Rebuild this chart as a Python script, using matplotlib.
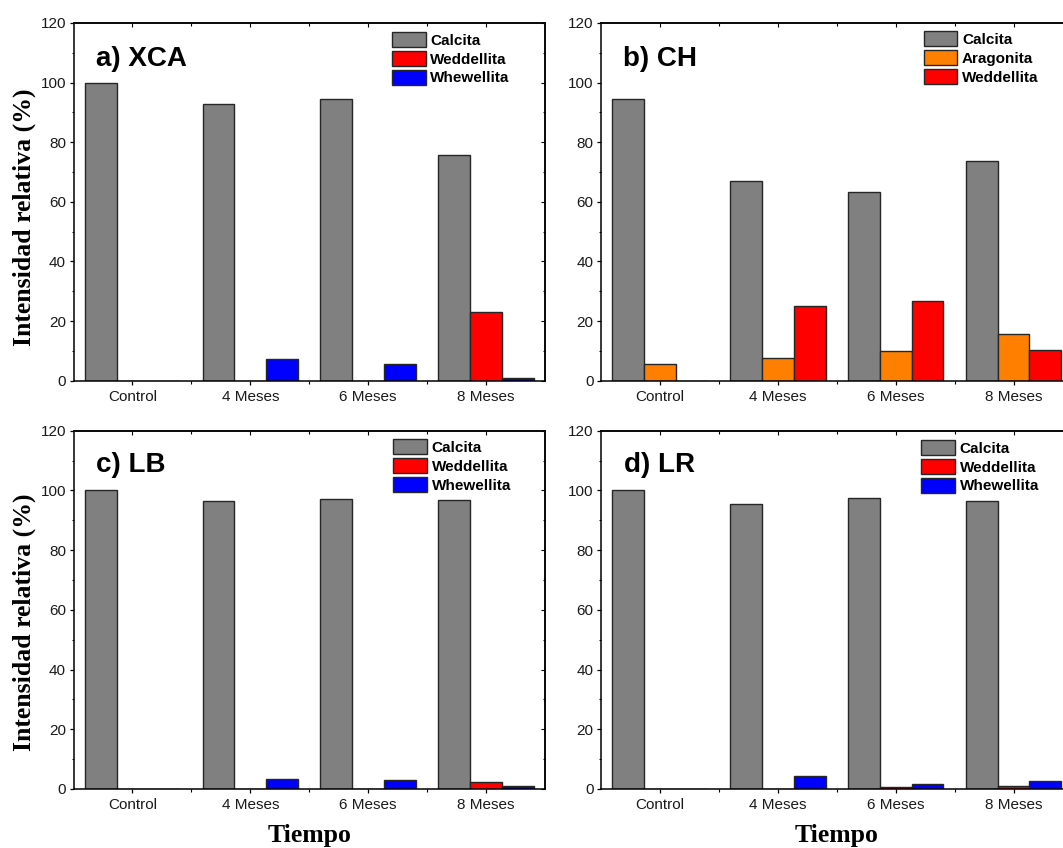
import numpy as np
import matplotlib
matplotlib.use("Agg")
import matplotlib.pyplot as plt
from matplotlib.ticker import MultipleLocator, FixedLocator

plt.rcParams['font.family'] = ['Liberation Sans', 'DejaVu Sans']

# ---- data -------------------------------------------------------------
categorias = ['Control', '4 Meses', '6 Meses', '8 Meses']

xca_calcita = [100.0, 92.7, 94.5, 75.7]
xca_weddellita = [0.0, 0.0, 0.0, 23.2]
xca_whewellita = [0.0, 7.4, 5.6, 0.9]

ch_calcita = [94.5, 67.1, 63.2, 73.8]
ch_aragonita = [5.6, 7.7, 10.0, 15.8]
ch_weddellita = [0.0, 24.9, 26.6, 10.3]

lb_calcita = [100.0, 96.6, 97.0, 96.7]
lb_weddellita = [0.0, 0.0, 0.0, 2.2]
lb_whewellita = [0.0, 3.4, 3.0, 1.0]

lr_calcita = [100.0, 95.5, 97.5, 96.5]
lr_weddellita = [0.0, 0.0, 0.7, 0.9]
lr_whewellita = [0.0, 4.5, 1.7, 2.8]

# ---- styles -----------------------------------------------------------
GRIS = '#808080'
ROJO = '#FF0000'
AZUL = '#0000FF'
NARANJA = '#FF8000'

W, H = 1063, 848
fig = plt.figure(figsize=(W / 100, H / 100), dpi=100)


def px_axes(left, top, right, bottom):
    return fig.add_axes([left / W, 1 - bottom / H, (right - left) / W, (bottom - top) / H])


paneles = [
    dict(box=(73.5, 23.0, 545.0, 380.7), titulo='a) XCA',
         series=[('Calcita', xca_calcita, GRIS), ('Weddellita', xca_weddellita, ROJO),
                 ('Whewellita', xca_whewellita, AZUL)],
         leg=(0.675, 0.975), tit=(0.047, 0.881), ylab=True, xlab=False),
    dict(box=(601.0, 23.0, 1072.5, 380.7), titulo='b) CH',
         series=[('Calcita', ch_calcita, GRIS), ('Aragonita', ch_aragonita, NARANJA),
                 ('Weddellita', ch_weddellita, ROJO)],
         leg=(0.684, 0.977), tit=(0.046, 0.881), ylab=False, xlab=False),
    dict(box=(73.5, 430.7, 545.0, 789.0), titulo='c) LB',
         series=[('Calcita', lb_calcita, GRIS), ('Weddellita', lb_weddellita, ROJO),
                 ('Whewellita', lb_whewellita, AZUL)],
         leg=(0.678, 0.976), tit=(0.047, 0.886), ylab=True, xlab=True),
    dict(box=(601.0, 430.7, 1072.5, 789.0), titulo='d) LR',
         series=[('Calcita', lr_calcita, GRIS), ('Weddellita', lr_weddellita, ROJO),
                 ('Whewellita', lr_whewellita, AZUL)],
         leg=(0.679, 0.974), tit=(0.049, 0.886), ylab=False, xlab=True),
]

x = np.arange(1, len(categorias) + 1)
ancho = 0.27
serif_bold = dict(family=['Liberation Serif', 'DejaVu Serif'], weight='bold', size=18.5)

for p in paneles:
    ax = px_axes(*p['box'])
    n = len(p['series'])
    for i, (nombre, valores, color) in enumerate(p['series']):
        ax.bar(x + (i - (n - 1) / 2) * ancho, valores, width=ancho, color=color,
               edgecolor='#262626', linewidth=1.0, label=nombre, zorder=2)

    ax.set_xlim(0.5, 4.5)
    ax.set_ylim(0, 120)
    ax.set_xticks(x)
    ax.set_xticklabels(categorias)
    ax.xaxis.set_minor_locator(FixedLocator([1.5, 2.5, 3.5]))
    ax.yaxis.set_major_locator(MultipleLocator(20))
    ax.yaxis.set_minor_locator(MultipleLocator(10))
    ax.tick_params(which='major', direction='out', length=3.0, width=0.9,
                   labelsize=11, colors='black', labelcolor='#1a1a1a')
    ax.tick_params(axis='x', which='major', pad=3.5)
    ax.tick_params(axis='y', which='major', pad=2.4)
    ax.tick_params(which='minor', direction='out', length=1.8, width=0.8)
    for s in ax.spines.values():
        s.set_linewidth(1.1)
        s.set_zorder(3)

    # mirrored inward ticks on top and right
    sx = ax.secondary_xaxis('top')
    sx.set_xticks(x)
    sx.xaxis.set_minor_locator(FixedLocator([1.5, 2.5, 3.5]))
    sx.tick_params(which='both', direction='in', labeltop=False, width=0.8)
    sx.tick_params(which='major', length=3.0)
    sx.tick_params(which='minor', length=1.8)
    sx.spines['top'].set_linewidth(1.1)
    sy = ax.secondary_yaxis('right')
    sy.yaxis.set_major_locator(MultipleLocator(20))
    sy.yaxis.set_minor_locator(MultipleLocator(10))
    sy.tick_params(which='both', direction='in', labelright=False, width=0.8)
    sy.tick_params(which='major', length=3.0)
    sy.tick_params(which='minor', length=1.8)
    sy.spines['right'].set_linewidth(1.1)

    ax.text(p['tit'][0], p['tit'][1], p['titulo'], transform=ax.transAxes,
            fontsize=20, fontweight='bold', ha='left', va='baseline')

    ax.legend(loc='upper left', bbox_to_anchor=p['leg'], frameon=False,
              prop=dict(weight='bold', size=11), borderpad=0, borderaxespad=0,
              handlelength=2.22, handleheight=1.15, handletextpad=0.3,
              labelspacing=0.2)

    if p['ylab']:
        ax.set_ylabel('Intensidad relativa (%)', fontdict=serif_bold, va='center')
        ax.yaxis.set_label_coords(-0.105, 0.456 if p['titulo'].startswith('a') else 0.465)
    if p['xlab']:
        ax.set_xlabel('Tiempo', fontdict=serif_bold, va='center')
        ax.xaxis.set_label_coords(0.5, -0.131)

fig.savefig('out.png', dpi=100)
